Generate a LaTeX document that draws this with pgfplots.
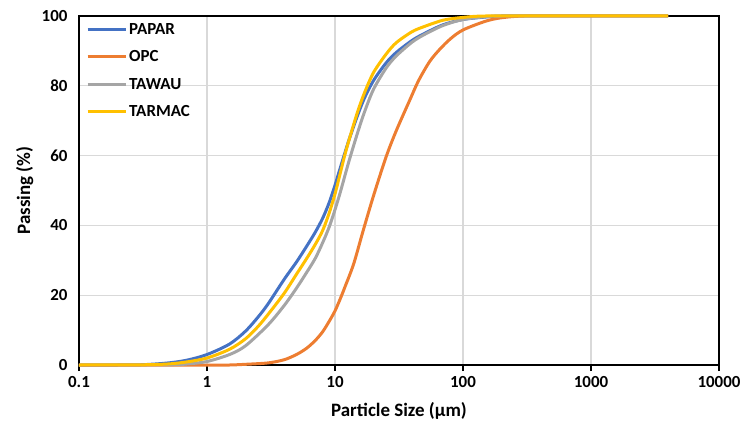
\documentclass[border=0pt]{standalone}
\usepackage{fontspec}
\setmainfont{Carlito}
\usepackage{pgfplots}
\pgfplotsset{compat=1.18}
\usetikzlibrary{calc}

\definecolor{cPapar}{HTML}{4472C4}
\definecolor{cOpc}{HTML}{ED7D31}
\definecolor{cTawau}{HTML}{A5A5A5}
\definecolor{cTarmac}{HTML}{FFC000}
\definecolor{gridgray}{HTML}{D9D9D9}

\newcommand{\chartfont}{\bfseries\fontsize{17}{20}\selectfont}
\newcommand{\titlefont}{\bfseries\fontsize{19}{22}\selectfont}

\begin{document}
\begin{tikzpicture}
  \begin{axis}[
      xmode=log,
      scale only axis,
      width=640bp, height=349bp,
      xmin=0.1, xmax=10000, ymin=0, ymax=100,
      xtick={0.1,1,10,100,1000,10000},
      xticklabels={0.1,1,10,100,1000,10000},
      xminorticks=false,
      ytick={0,20,40,60,80,100},
      grid=major,
      major grid style={draw=gridgray, line width=1.1bp},
      axis line style={black, line width=1.4bp},
      xtick pos=left,
      xtick align=outside,
      major tick length=6bp,
      xtick style={black, line width=1.2bp},
      ytick style={draw=none},
      /pgf/number format/assume math mode=true,
      tick label style={font=\chartfont, black},
      xticklabel style={yshift=-2bp},
      yticklabel style={xshift=-8bp},
      xlabel={Particle Size (µm)},
      ylabel={Passing (\%)},
      label style={font=\titlefont},
      xlabel style={at={(axis description cs:0.5,-0.132)}, anchor=center},
      ylabel style={at={(axis description cs:-0.085,0.5)}, anchor=center},
      clip=false,
      legend cell align=left,
      legend style={draw=none, fill=none, at={(axis description cs:0,1)},
        anchor=north west, xshift=4bp, yshift=-3bp, row sep=11bp,
        font=\chartfont},
      legend image code/.code={\draw[#1] (0bp,0bp) -- (38bp,0bp);},
      every axis plot/.append style={line width=3bp, smooth, tension=0.5, line join=round},
    ]
    % PAPAR
    \addplot[cPapar] coordinates {
      (0.1,0) (0.2,0) (0.32,0.1) (0.5,0.6) (0.7,1.4) (1,3) (1.5,6) (2,9.7)
      (2.5,13.7) (3,17.5) (4,24.5) (5,29.5) (6,34) (7,38) (8,42) (9,46.5)
      (10,51.5) (11,56.5) (12,61) (13,65) (15,71.5) (17,76.5) (20,81.5)
      (25,86.5) (30,89.5) (40,93) (50,95) (70,97.5) (100,99) (150,99.7)
      (200,100) (500,100) (4000,100)
    };
    \addlegendentry{PAPAR}
    % OPC
    \addplot[cOpc] coordinates {
      (0.1,0) (1,0) (1.5,0) (2,0.2) (3,0.6) (4,1.5) (5,3) (6,4.8) (7,7)
      (8,9.5) (9,12.5) (10,15.5) (11,19) (12,22.5) (14,29) (16.6,38.5)
      (20,48.5) (25,59.5) (30,67) (38.5,76) (45,81.5) (55,87) (66,90.5)
      (80,93.5) (100,96) (150,98.5) (200,99.5) (300,100) (600,100) (4000,100)
    };
    \addlegendentry{OPC}
    % TAWAU
    \addplot[cTawau] coordinates {
      (0.1,0) (0.5,0.05) (0.7,0.3) (1,1) (1.5,3) (2,5.5) (3,11.5) (4,17)
      (5,22) (6,26.5) (7,30.5) (8,35) (9,39.5) (10,44.5) (11,49.5) (12,54.5)
      (13,59) (15,66.5) (17,72.5) (20,79) (25,85) (30,88.5) (40,92.5)
      (50,94.7) (70,97.3) (100,99) (150,99.8) (200,100) (500,100) (4000,100)
    };
    \addlegendentry{TAWAU}
    % TARMAC
    \addplot[cTarmac] coordinates {
      (0.1,0) (0.3,0.05) (0.5,0.3) (0.7,0.9) (1,2) (1.5,4.5) (2,7.5) (2.5,11)
      (3,14.5) (4,20.5) (5,26) (6,30.5) (7,34.5) (8,38.5) (9,43.5) (10,49)
      (11,55) (12,60.5) (13,65) (15,72.5) (17,78) (20,83.8) (25,89) (30,92.3)
      (40,95.5) (50,97) (70,98.8) (100,99.6) (150,100) (500,100) (4000,100)
    };
    \addlegendentry{TARMAC}
  \end{axis}
  \pgfresetboundingbox
  \path[use as bounding box] ($(current axis.south west)+(-79bp,-62bp)$)
    rectangle ($(current axis.north east)+(27bp,16bp)$);
\end{tikzpicture}
\end{document}
